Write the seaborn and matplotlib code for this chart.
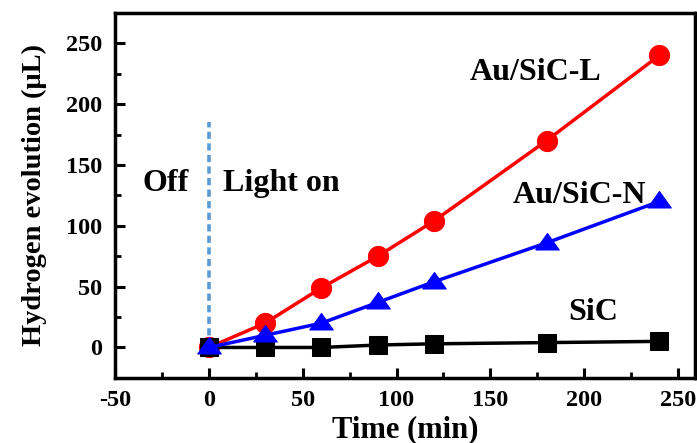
import matplotlib
matplotlib.use("Agg")
import matplotlib.pyplot as plt
import seaborn as sns
import pandas as pd
from matplotlib.ticker import MultipleLocator

time_min = [0, 30, 60, 90, 120, 180, 240]
sic = [0, 0, 0, 2, 3, 4, 5]
au_sic_n = [0, 10, 20, 37, 54, 86, 120]
au_sic_l = [0, 20, 49, 75, 104, 170, 240]
series_names = ["Au/SiC-L", "SiC", "Au/SiC-N"]

sns.set_style("ticks")
plt.rcParams["font.family"] = ["Liberation Serif", "DejaVu Serif"]
plt.rcParams["font.weight"] = "bold"
plt.rcParams["axes.unicode_minus"] = False
for k in ["text.color", "axes.labelcolor", "xtick.color", "ytick.color", "axes.edgecolor"]:
    plt.rcParams[k] = "black"

df = pd.DataFrame({
    "time": time_min * 3,
    "value": au_sic_l + sic + au_sic_n,
    "series": sum([[n] * len(time_min) for n in series_names], []),
})

fig = plt.figure(figsize=(6.97, 4.43), dpi=100)
ax = fig.add_axes([0.165, 0.147, 0.832, 0.824])

wide_triangle = [(-1, -0.55), (1, -0.55), (0, 0.85), (-1, -0.55)]
styles = {
    "Au/SiC-L": dict(color="#ff0000", marker="o", markersize=14.5),
    "SiC": dict(color="#000000", marker="s", markersize=12.5),
    "Au/SiC-N": dict(color="#0000ff", marker=wide_triangle, markersize=17),
}
for name in series_names:
    sub = df[df["series"] == name]
    st = styles[name]
    sns.lineplot(data=sub, x="time", y="value", ax=ax, color=st["color"],
                 marker=st["marker"], markersize=st["markersize"],
                 markeredgecolor=st["color"], linewidth=2.5, legend=False,
                 zorder=3)

ax.plot([0, 0], [0, 185], linestyle=(0, (2.0, 1.2)), color="#5b9bd5",
        linewidth=2.6, zorder=2)

ax.set_xlim(-50, 259)
ax.set_ylim(-25, 275)
ax.xaxis.set_major_locator(MultipleLocator(50))
ax.xaxis.set_minor_locator(MultipleLocator(25))
ax.yaxis.set_major_locator(MultipleLocator(50))
ax.yaxis.set_minor_locator(MultipleLocator(25))
ax.tick_params(which="major", direction="in", length=7, width=2.2,
               labelsize=17.5, pad=9)
ax.tick_params(which="minor", direction="in", length=4, width=2.0)
for lab in ax.get_xticklabels() + ax.get_yticklabels():
    lab.set_fontweight("bold")
for s in ax.spines.values():
    s.set_linewidth(2.5)
    s.set_visible(True)

ax.set_xlabel("Time (min)", fontsize=22, fontweight="bold", labelpad=3)
ax.set_ylabel("Hydrogen evolution (\u03bcL)", fontsize=20.5, fontweight="bold",
              labelpad=14)

tkw = dict(fontsize=23, fontweight="bold", va="center")
ax.text(-23, 135, "Off", ha="center", **tkw)
ax.text(7.5, 135, "Light on", ha="left", **tkw)
ax.text(139, 226, "Au/SiC-L", ha="left", **tkw)
ax.text(162, 125, "Au/SiC-N", ha="left", **tkw)
ax.text(191.5, 29, "SiC", ha="left", **tkw)

fig.savefig("out.png", dpi=100)
